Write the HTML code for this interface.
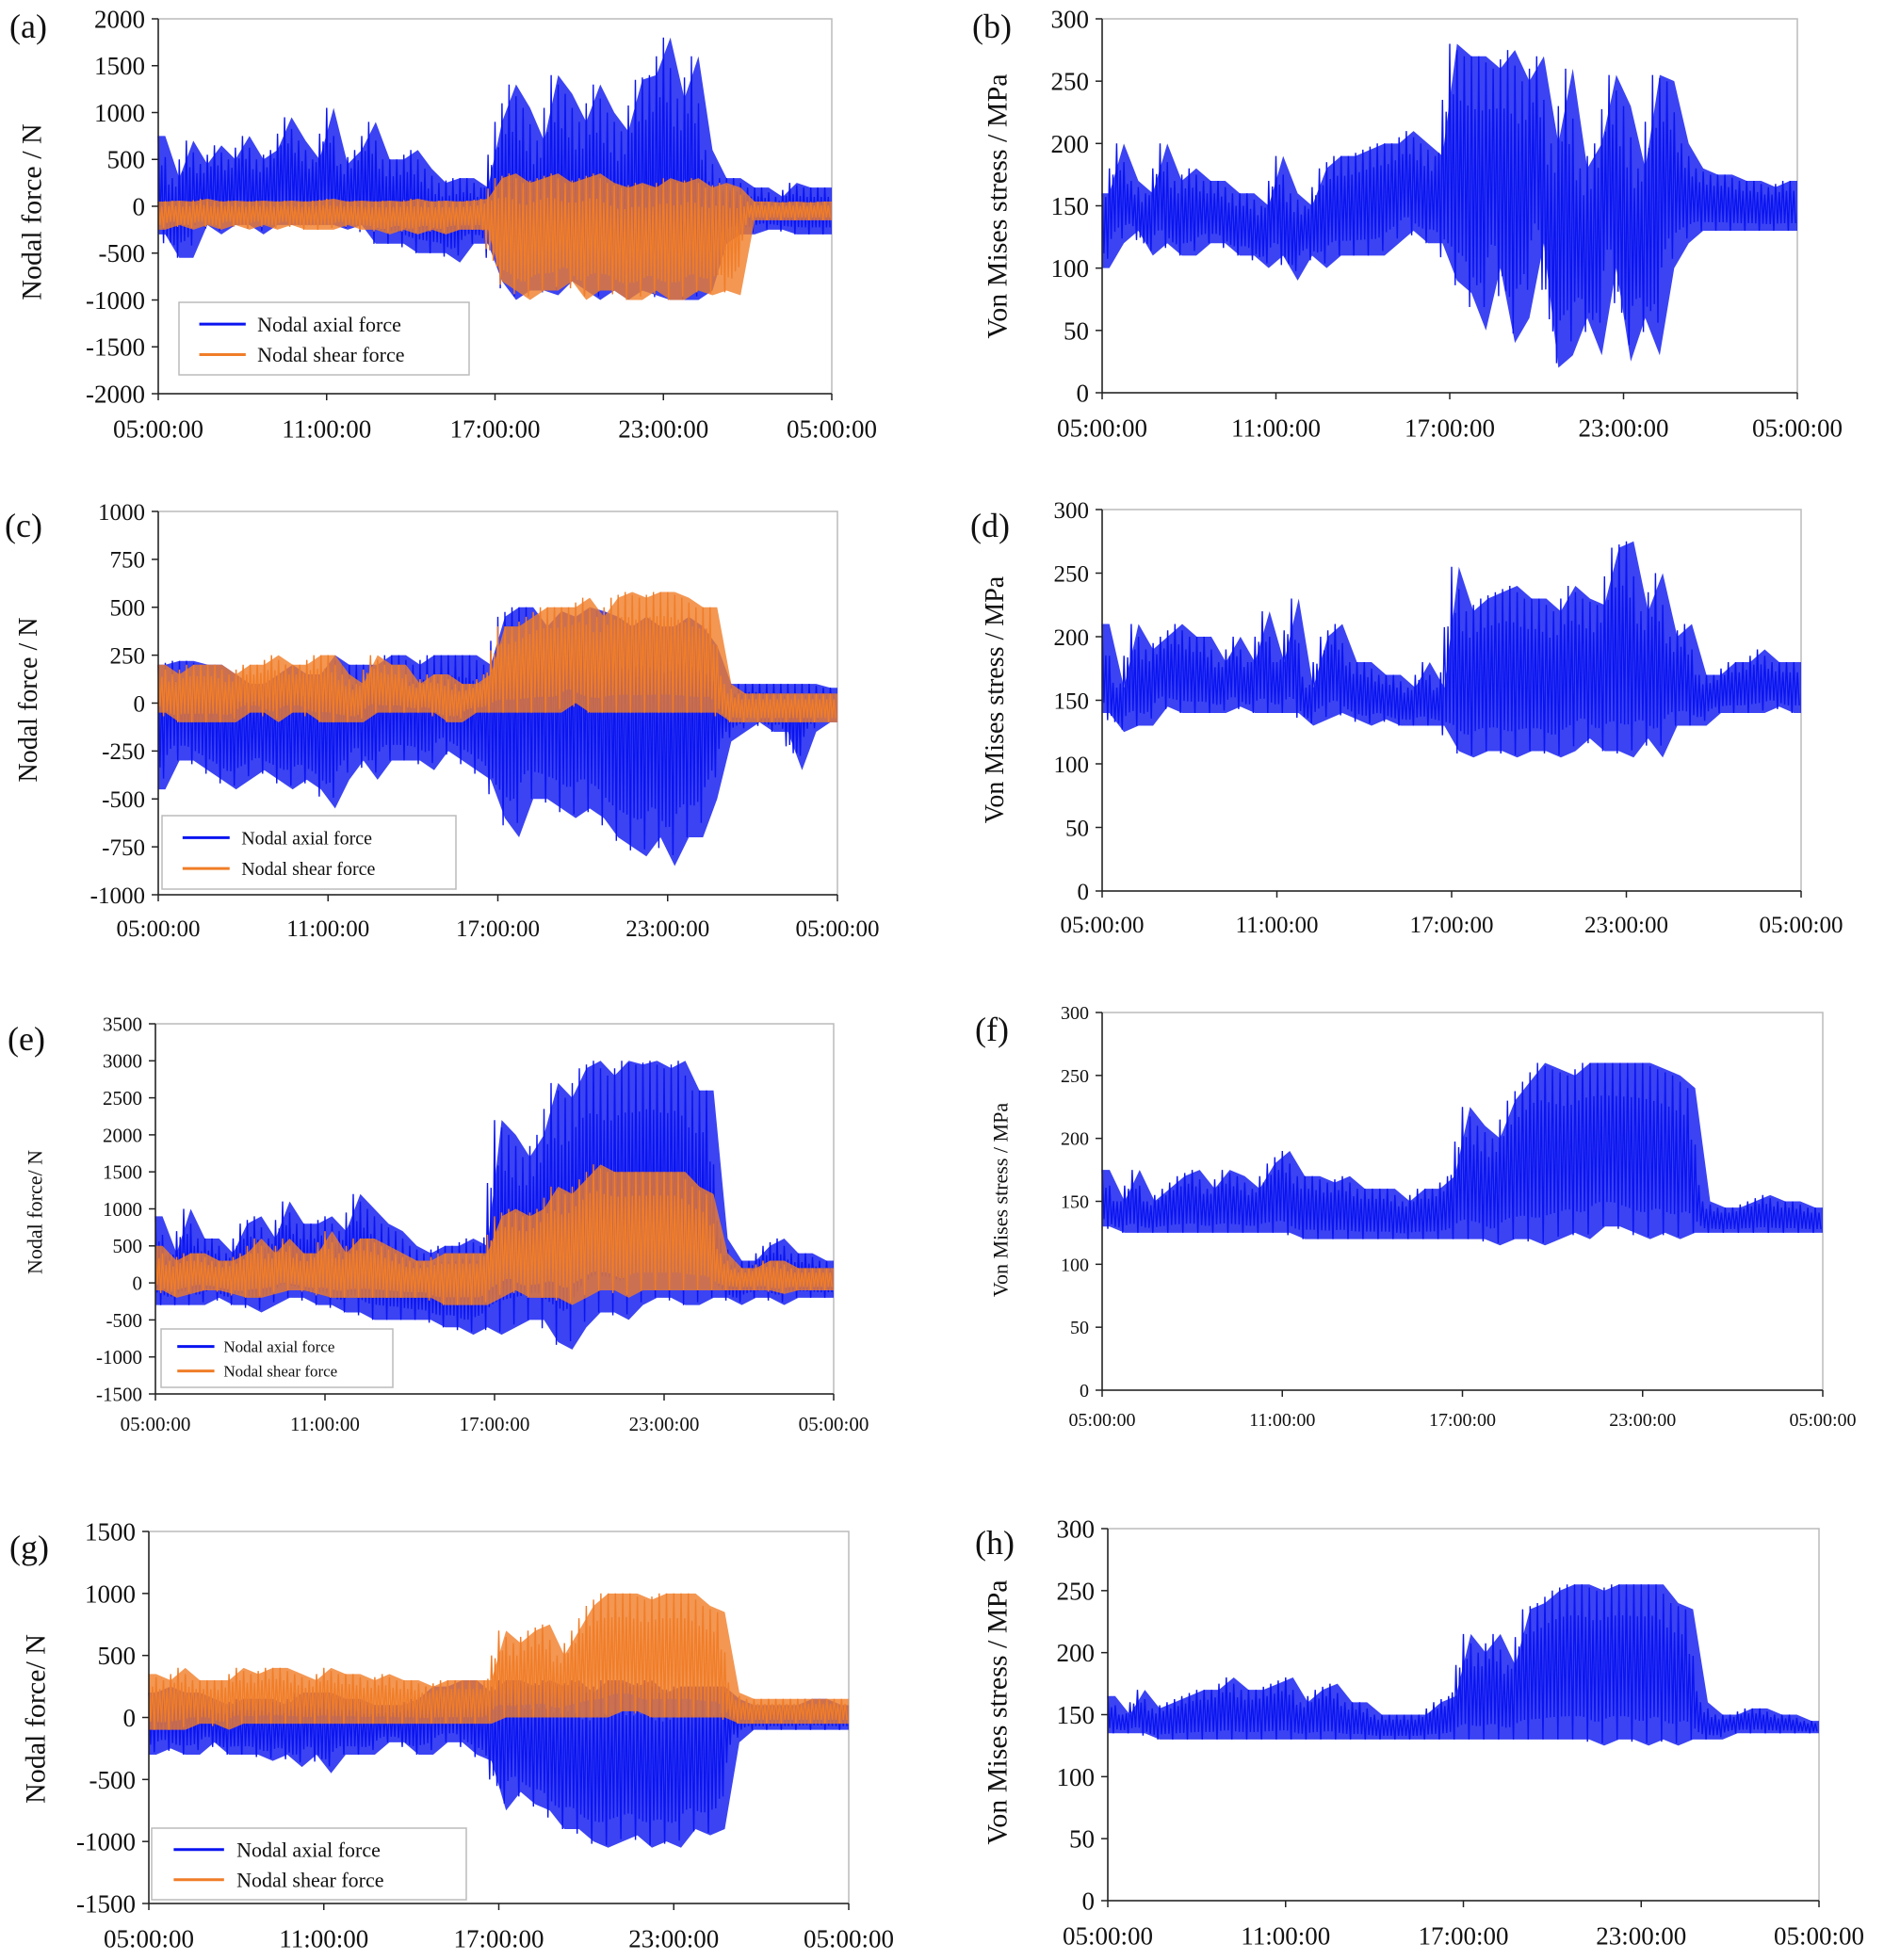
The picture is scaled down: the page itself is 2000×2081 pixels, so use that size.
<!DOCTYPE html>
<html><head><meta charset="utf-8">
<style>
html,body{margin:0;padding:0;background:#fff;}
svg{display:block;font-family:"Liberation Serif",serif;}
</style></head>
<body>
<svg id="chart" width="2000" height="2081" viewBox="0 0 2000 2081" xmlns="http://www.w3.org/2000/svg"></svg>
<script>
// ---- data (48 half-hour bins, 05:00 -> 05:00): envelope hi/lo ----
const xTickLabels = ["05:00:00","11:00:00","17:00:00","23:00:00","05:00:00"];
const legendLabels = ["Nodal axial force","Nodal shear force"];

const aAxialHi = [750,300,700,450,650,500,750,500,600,950,700,500,1050,450,600,900,500,500,600,400,250,300,300,200,900,1300,1050,700,1400,1200,900,1300,1000,800,1350,1400,1800,1150,1600,600,300,300,200,200,100,250,200,200];
const aAxialLo = [-300,-550,-550,-200,-300,-200,-200,-300,-200,-200,-200,-200,-200,-250,-200,-400,-400,-400,-500,-500,-500,-600,-400,-400,-800,-1000,-900,-900,-950,-800,-900,-1000,-900,-1000,-900,-950,-1000,-1000,-1000,-900,-400,-300,-300,-250,-250,-300,-300,-300];
const aShearHi = [50,60,50,80,50,60,50,60,50,60,50,60,80,50,60,50,60,50,80,50,60,50,60,80,300,350,250,300,350,250,300,350,250,200,250,200,300,250,300,200,250,200,50,50,40,50,40,50];
const aShearLo = [-250,-200,-250,-200,-250,-200,-250,-200,-250,-200,-250,-250,-250,-200,-250,-250,-300,-250,-300,-250,-300,-250,-250,-250,-800,-900,-1000,-900,-900,-800,-1000,-900,-900,-1000,-1000,-900,-1000,-1000,-900,-950,-900,-950,-150,-150,-150,-150,-150,-150];

const bHi = [160,200,170,160,200,170,180,170,170,160,160,150,190,160,150,180,190,190,195,200,200,210,200,190,280,270,270,260,275,250,270,200,260,180,200,255,230,180,255,250,200,180,175,175,170,170,165,170];
const bLo = [100,120,130,110,120,110,110,120,120,110,110,100,110,90,110,100,110,110,110,110,120,130,120,120,90,80,50,100,40,60,120,20,30,60,30,100,25,60,30,100,120,130,130,130,130,130,130,130];

const cAxialHi = [200,220,220,200,200,150,100,100,150,200,150,150,250,200,200,200,250,250,200,250,250,250,250,200,450,500,500,400,480,450,500,480,450,400,450,400,400,450,400,300,100,100,100,100,100,100,100,80];
const cAxialLo = [-450,-300,-300,-350,-400,-450,-400,-350,-400,-450,-400,-450,-550,-400,-300,-400,-300,-300,-300,-350,-250,-300,-350,-400,-600,-700,-500,-500,-550,-600,-550,-600,-700,-750,-800,-700,-850,-700,-700,-500,-200,-150,-100,-150,-150,-350,-150,-100];
const cShearHi = [200,150,200,200,200,150,200,200,250,200,200,250,250,150,100,250,200,200,100,150,150,100,100,150,400,400,450,500,500,500,550,450,550,580,550,580,580,550,500,500,100,50,50,50,50,50,50,50];
const cShearLo = [-50,-100,-100,-100,-100,-100,-50,-50,-100,-50,-50,-100,-100,-100,-100,-50,-50,-50,-50,-50,-100,-100,-50,-50,-50,-50,-50,-50,-50,0,-50,-50,-50,-50,-50,-50,-50,-50,-50,-50,-100,-100,-100,-100,-100,-100,-100,-100];

const dHi = [210,160,210,190,200,210,200,200,180,200,180,220,180,230,160,200,210,180,180,170,170,160,180,160,255,220,230,235,240,230,230,220,240,230,225,270,275,220,250,200,210,170,170,180,180,190,180,180];
const dLo = [140,125,130,130,145,140,140,140,140,145,140,140,140,140,130,135,140,135,130,135,130,130,130,130,110,105,110,110,105,110,110,105,110,120,110,110,105,120,105,130,130,130,140,140,140,140,145,140];

const eAxialHi = [900,400,1000,600,600,400,800,900,600,1100,800,800,900,700,1200,1000,800,700,500,400,500,500,600,500,2200,2000,1700,2000,2700,2500,2900,3000,2800,3000,2950,3000,2900,3000,2600,2600,600,300,300,500,600,400,400,300];
const eAxialLo = [-300,-300,-300,-300,-200,-300,-300,-400,-300,-200,-200,-300,-300,-400,-400,-500,-500,-500,-500,-500,-600,-600,-700,-600,-700,-600,-500,-500,-800,-900,-600,-400,-400,-500,-300,-200,-200,-300,-300,-200,-200,-300,-200,-200,-300,-200,-200,-200];
const eShearHi = [500,300,400,400,300,300,400,600,400,600,400,400,700,400,600,600,500,400,300,300,400,400,400,400,900,1000,900,1000,1300,1200,1400,1600,1500,1500,1500,1500,1500,1500,1300,1200,400,200,200,300,300,200,200,200];
const eShearLo = [-100,-200,-150,-100,-100,-150,-200,-200,-150,-100,-100,-150,-200,-200,-200,-200,-200,-200,-200,-200,-300,-300,-300,-300,-200,-100,-200,-200,-200,-300,-200,-100,-100,-200,-100,-100,-100,-100,-100,-100,-100,-100,-100,-100,-150,-100,-100,-100];

const fHi = [175,150,175,150,160,170,175,160,175,170,160,180,190,170,170,165,170,160,160,160,150,160,160,170,225,210,200,230,245,260,255,250,260,260,260,260,260,255,250,240,150,145,145,150,155,150,150,145];
const fLo = [130,125,125,125,125,125,125,125,125,125,125,125,125,120,120,120,120,120,120,120,120,120,120,120,120,120,115,120,120,115,120,125,120,130,130,125,120,125,120,125,125,125,125,125,125,125,125,125];

const gAxialHi = [200,250,200,200,150,100,150,150,150,100,200,200,200,150,150,100,100,100,150,250,250,300,300,200,300,300,250,300,250,300,200,300,300,250,300,200,250,250,250,250,150,100,100,100,100,150,150,100];
const gAxialLo = [-300,-250,-300,-300,-200,-300,-300,-300,-350,-300,-400,-300,-450,-300,-300,-300,-200,-200,-300,-300,-200,-200,-300,-350,-750,-600,-700,-750,-900,-900,-1000,-1050,-1000,-950,-1050,-1000,-1050,-900,-950,-900,-200,-100,-100,-100,-100,-100,-100,-100];
const gShearHi = [350,300,400,300,300,300,400,350,400,400,350,300,400,350,350,300,350,300,300,250,300,300,300,300,700,600,700,750,500,700,900,1000,1000,1000,950,1000,1000,1000,900,850,200,150,150,150,150,150,150,150];
const gShearLo = [-100,-100,-100,-50,-50,-100,-50,-50,-50,-50,-50,-50,-50,-50,-50,-50,-50,-50,-50,-50,-50,-50,-50,-50,0,0,0,0,0,0,0,0,50,50,0,0,0,0,0,0,-50,-50,-50,-50,-50,-50,-50,-50];

const hHi = [165,150,170,155,160,165,170,170,180,170,170,175,180,160,170,175,160,160,150,150,150,150,160,165,215,200,215,190,235,240,250,255,255,250,255,255,255,255,240,235,160,150,150,155,155,150,150,145];
const hLo = [135,135,135,130,130,130,130,130,130,130,130,130,130,130,130,130,130,130,130,130,130,130,130,130,130,130,130,130,130,130,130,130,130,125,130,130,125,130,125,130,130,130,135,135,135,135,135,135];

const forceTicksA = [-2000,-1500,-1000,-500,0,500,1000,1500,2000];
const forceTicksC = [-1000,-750,-500,-250,0,250,500,750,1000];
const forceTicksE = [-1500,-1000,-500,0,500,1000,1500,2000,2500,3000,3500];
const forceTicksG = [-1500,-1000,-500,0,500,1000,1500];
const stressTicks = [0,50,100,150,200,250,300];

// ---- rendering ----
const NS = "http://www.w3.org/2000/svg";
const svg = document.getElementById("chart");
function mk(tag, attrs, parent){
  const e = document.createElementNS(NS, tag);
  for (const k in attrs) e.setAttribute(k, attrs[k]);
  (parent||svg).appendChild(e);
  return e;
}
const BLUE = "#0a14f0", ORANGE = "#f07d28";

const panels = [
  {id:"a", x0:168,x1:883,y0:20,y1:418, ticks:forceTicksA, fs:27, tfs:30, lx:10,ly:40, tx:33,ty:225, title:"Nodal force / N",
   series:[[aAxialHi,aAxialLo,BLUE],[aShearHi,aShearLo,ORANGE]], legend:[190,321,308,77,22]},
  {id:"b", x0:1170,x1:1908,y0:20,y1:417, ticks:stressTicks, fs:27, tfs:30, lx:1032,ly:40, tx:1058,ty:219, title:"Von Mises stress / MPa",
   series:[[bHi,bLo,BLUE]]},
  {id:"c", x0:168,x1:889,y0:543,y1:950, ticks:forceTicksC, fs:25, tfs:28, lx:5,ly:570, tx:29,ty:743, title:"Nodal force / N",
   series:[[cAxialHi,cAxialLo,BLUE],[cShearHi,cShearLo,ORANGE]], legend:[172,866,312,78,20]},
  {id:"d", x0:1170,x1:1912,y0:541,y1:946, ticks:stressTicks, fs:25, tfs:28, lx:1030,ly:570, tx:1055,ty:743, title:"Von Mises stress / MPa",
   series:[[dHi,dLo,BLUE]]},
  {id:"e", x0:165,x1:885,y0:1087,y1:1480, ticks:forceTicksE, fs:21, tfs:22, lx:8,ly:1115, tx:37,ty:1287, title:"Nodal force/ N",
   series:[[eAxialHi,eAxialLo,BLUE],[eShearHi,eShearLo,ORANGE]], legend:[171,1411,246,62,17]},
  {id:"f", x0:1170,x1:1935,y0:1075,y1:1476, ticks:stressTicks, fs:20, tfs:22, lx:1035,ly:1105, tx:1062,ty:1274, title:"Von Mises stress / MPa",
   series:[[fHi,fLo,BLUE]]},
  {id:"g", x0:158,x1:901,y0:1626,y1:2021, ticks:forceTicksG, fs:27, tfs:30, lx:10,ly:1655, tx:37,ty:1825, title:"Nodal force/ N",
   series:[[gAxialHi,gAxialLo,BLUE],[gShearHi,gShearLo,ORANGE]], legend:[161,1941,334,76,22]},
  {id:"h", x0:1176,x1:1931,y0:1623,y1:2018, ticks:stressTicks, fs:27, tfs:30, lx:1035,ly:1650, tx:1058,ty:1818, title:"Von Mises stress / MPa",
   series:[[hHi,hLo,BLUE]]}
];

panels.forEach(p => {
  const g = mk("g", {});
  
  
  const ymin = p.ticks[0], ymax = p.ticks[p.ticks.length-1];
  const X = t => p.x0 + (t/24)*(p.x1-p.x0);
  const Y = v => p.y1 - (v-ymin)/(ymax-ymin)*(p.y1-p.y0);

  const frame = mk("rect", {x:p.x0,y:p.y0,width:p.x1-p.x0,height:p.y1-p.y0,fill:"none",stroke:"#bbb","stroke-width":1.5}, g);
  
  

  p.series.forEach((s, si) => {
    const hi = s[0], lo = s[1], n = hi.length, dt = 24/n;
    const sg = mk("g", {}, g);
    
    
    let up = [], dn = [];
    for (let i=0;i<n;i++){ const t=(i+0.5)*dt; up.push(X(t)+","+Y(hi[i])); dn.unshift(X(t)+","+Y(lo[i])); }
    up.unshift(X(0)+","+Y(hi[0])); up.push(X(24)+","+Y(hi[n-1]));
    dn.unshift(X(24)+","+Y(lo[n-1])); dn.push(X(0)+","+Y(lo[0]));
    const env = mk("polygon", {points: up.concat(dn).join(" "), fill:s[2], "fill-opacity":0.8}, sg);
    
    
    const sub = 8;
    let pts = [];
    for (let i=0;i<n;i++){
      const nh = hi[Math.min(i+1,n-1)], nl = lo[Math.min(i+1,n-1)];
      for (let k=0;k<sub;k++){
        const f = k/sub, t = (i+f)*dt;
        const h = hi[i]+(nh-hi[i])*f, l = lo[i]+(nl-lo[i])*f;
        const mid = (h+l)/2;
        const v = (k%2===0) ? (k%4===0 ? h : mid+(h-mid)*0.6) : (k%3===0 ? l : mid+(l-mid)*0.7);
        pts.push(X(t).toFixed(1)+","+Y(v).toFixed(1));
      }
    }
    const tr = mk("polyline", {points:pts.join(" "), fill:"none", stroke:s[2], "stroke-width":1.4}, sg);
    
    
  });

  const ax = mk("line", {x1:p.x0,y1:p.y0,x2:p.x0,y2:p.y1,stroke:"#222","stroke-width":1.5}, g);
  
  
  const bx = mk("line", {x1:p.x0,y1:p.y1,x2:p.x1,y2:p.y1,stroke:"#222","stroke-width":1.5}, g);
  
  

  p.ticks.forEach(v => {
    mk("line", {x1:p.x0-7,y1:Y(v),x2:p.x0,y2:Y(v),stroke:"#222","stroke-width":1.5}, g);
    const t = mk("text", {x:p.x0-14,y:Y(v)+p.fs*0.35,"text-anchor":"end","font-size":p.fs,fill:"#111"}, g);
    t.textContent = v;
    
    
  });
  xTickLabels.forEach((lab, i) => {
    const xx = X(i*6);
    mk("line", {x1:xx,y1:p.y1,x2:xx,y2:p.y1+7,stroke:"#222","stroke-width":1.5}, g);
    const t = mk("text", {x:xx,y:p.y1+p.fs*1.2+14,"text-anchor":"middle","font-size":p.fs,fill:"#111"}, g);
    t.textContent = lab;
    
    
  });

  const lt = mk("text", {x:p.lx,y:p.ly,"font-size":36,fill:"#111"}, g);
  lt.textContent = "(" + p.id + ")";
  
  

  const yt = mk("text", {x:p.tx,y:p.ty,"text-anchor":"middle","font-size":p.tfs,fill:"#111",transform:`rotate(-90 ${p.tx} ${p.ty}) translate(0 ${p.tfs*0.35})`}, g);
  yt.textContent = p.title;
  
  

  if (p.legend){
    const [lx,ly,lw,lh,lfs] = p.legend;
    const lg = mk("g", {}, g);
    
    
    mk("rect", {x:lx,y:ly,width:lw,height:lh,fill:"#fff",stroke:"#bbb","stroke-width":1.5}, lg);
    legendLabels.forEach((lab, i) => {
      const yy = ly + lh*(0.3 + i*0.42);
      const e = mk("g", {}, lg);
      
      
      mk("line", {x1:lx+lw*0.07,y1:yy,x2:lx+lw*0.23,y2:yy,stroke:i===0?BLUE:ORANGE,"stroke-width":3}, e);
      const t = mk("text", {x:lx+lw*0.27,y:yy+lfs*0.35,"font-size":lfs,fill:"#111"}, e);
      t.textContent = lab;
    });
  }
});
</script>
</body></html>
